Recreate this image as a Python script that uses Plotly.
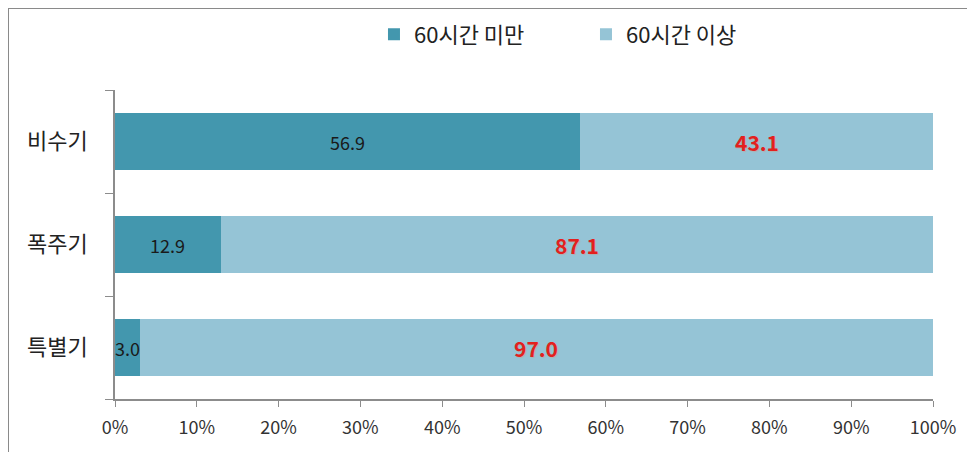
import plotly.graph_objects as go

categories = ["비수기", "폭주기", "특별기"]
under60 = [56.9, 12.9, 3.0]
over60 = [43.1, 87.1, 97.0]
series_names = ["60시간 미만", "60시간 이상"]
tick_vals = [0, 10, 20, 30, 40, 50, 60, 70, 80, 90, 100]
tick_text = [f"{v}%" for v in tick_vals]

FONT = "Noto Sans CJK KR"
DARK = "#4397AE"
LIGHT = "#95C4D6"

fig = go.Figure()
fig.add_trace(go.Bar(y=categories, x=under60, name=series_names[0], orientation="h",
                     marker=dict(color=DARK, line=dict(width=0)), hoverinfo="x+y"))
fig.add_trace(go.Bar(y=categories, x=over60, name=series_names[1], orientation="h",
                     marker=dict(color=LIGHT, line=dict(width=0)), hoverinfo="x+y"))

annotations = []
for c, a, b in zip(categories, under60, over60):
    annotations.append(dict(x=a / 2, y=c, xref="x", yref="y", text=f"{a:.1f}", showarrow=False,
                            font=dict(family=FONT, size=18, color="#1a1a1a")))
    annotations.append(dict(x=a + b / 2, y=c, xref="x", yref="y", text=f"<b>{b:.1f}</b>", showarrow=False,
                            font=dict(family=FONT, size=21, color="#E3201E", shadow="1px 1px 1px #b0b0b0")))

fig.update_layout(
    barmode="stack",
    bargap=0.437,
    width=975, height=452,
    margin=dict(l=107, r=50, t=82, b=61, autoexpand=False),
    paper_bgcolor="white", plot_bgcolor="white",
    font=dict(family=FONT, color="#333333"),
    annotations=annotations,
    legend=dict(orientation="h", x=0.3166, y=1.18, xanchor="left", yanchor="middle",
                font=dict(family=FONT, size=22, color="#222222"),
                entrywidth=167, entrywidthmode="pixels", traceorder="normal",
                itemclick=False, itemdoubleclick=False),
    xaxis=dict(range=[0, 100], tickvals=tick_vals, ticktext=tick_text, showgrid=False,
               showline=True, linecolor="#8c8c8c", linewidth=1.5, ticks="outside", ticklen=6,
               tickcolor="#8c8c8c", tickfont=dict(family=FONT, size=18, color="#333333"),
               ticklabelstandoff=6, zeroline=False, fixedrange=True),
    yaxis=dict(categoryorder="array", categoryarray=categories[::-1], showgrid=False,
               showline=True, linecolor="#8c8c8c", linewidth=1.5, ticks="outside", ticklen=8,
               tickson="boundaries", tickcolor="#8c8c8c",
               tickfont=dict(family=FONT, size=22, color="#222222"), ticklabelstandoff=21,
               fixedrange=True),
    shapes=[dict(type="rect", xref="paper", yref="paper", x0=-0.1308, y0=-0.3, x1=1.2, y1=1.2654,
                 line=dict(color="#8a8a8a", width=2), fillcolor="rgba(0,0,0,0)", layer="below")],
)

fig.write_html("out.html")
